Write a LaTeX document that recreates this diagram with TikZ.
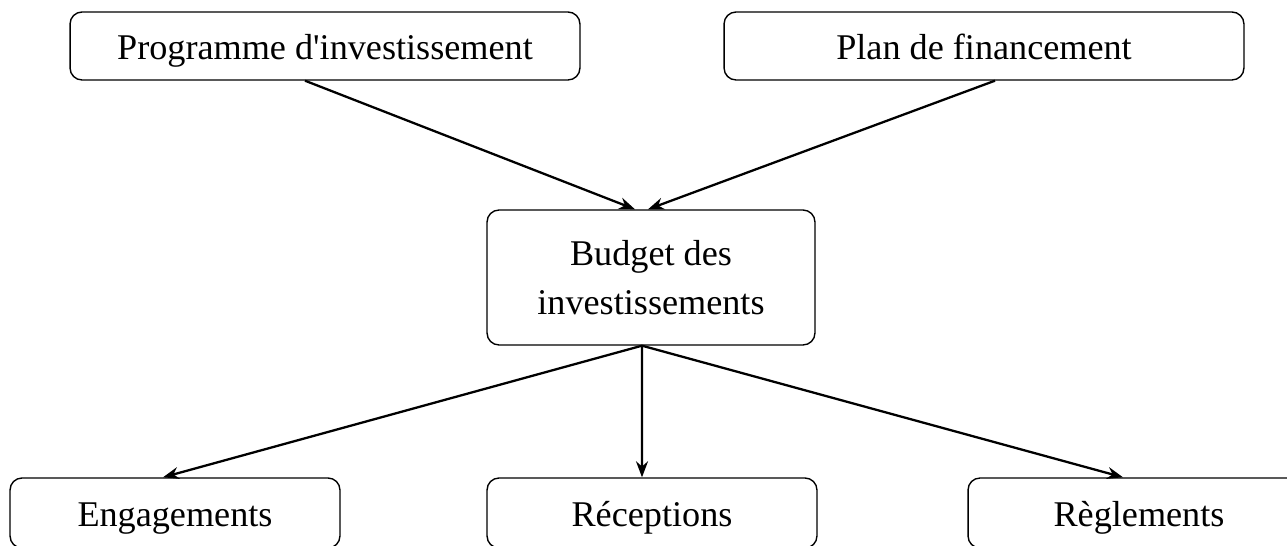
\documentclass[tikz,border=0pt]{standalone}
\usepackage{fontspec}
\setmainfont{Liberation Serif}
\usetikzlibrary{arrows.meta}

\tikzset{
  box/.style={draw, rounded corners=0.24cm, line width=0.8pt, inner sep=0pt,
    align=center, font=\fontsize{20.6}{27.5}\selectfont},
  onebox/.style={box, text height=0.55cm, text depth=0cm},
  link/.style={-{Stealth[length=0.32cm,width=0.24cm]}, line width=1.3pt}
}

\begin{document}
\begin{tikzpicture}[x=0.02cm, y=-0.02cm]
    \useasboundingbox (0,0) rectangle (1287,546);

    \node[onebox, minimum width=10.2cm, minimum height=1.36cm] (prog) at (325,46) {Programme d\textquotesingle investissement};
    \node[onebox, minimum width=10.4cm, minimum height=1.36cm] (plan) at (984,46) {Plan de financement};
    \node[box, minimum width=6.56cm, minimum height=2.7cm] (budget) at (651,277.5) {Budget des\\investissements};

    \node[onebox, minimum width=6.6cm, minimum height=1.4cm] (engag) at (175,513) {Engagements};
    \node[onebox, minimum width=6.6cm, minimum height=1.4cm] (recept) at (652,513) {Réceptions};
    \node[onebox, minimum width=6.84cm, minimum height=1.4cm] (regl) at (1139,513) {Règlements};

    \draw[link] ([xshift=-0.4cm]prog.south) -- ([xshift=-0.32cm]budget.north);
    \draw[link] ([xshift=0.22cm]plan.south) -- ([xshift=-0.06cm]budget.north);

    \draw[link] ([xshift=-0.18cm]budget.south) -- ([xshift=-0.24cm]engag.north);
    \draw[link] ([xshift=-0.18cm]budget.south) -- ([xshift=-0.2cm]recept.north);
    \draw[link] ([xshift=-0.18cm]budget.south) -- ([xshift=-0.32cm]regl.north);
\end{tikzpicture}
\end{document}
